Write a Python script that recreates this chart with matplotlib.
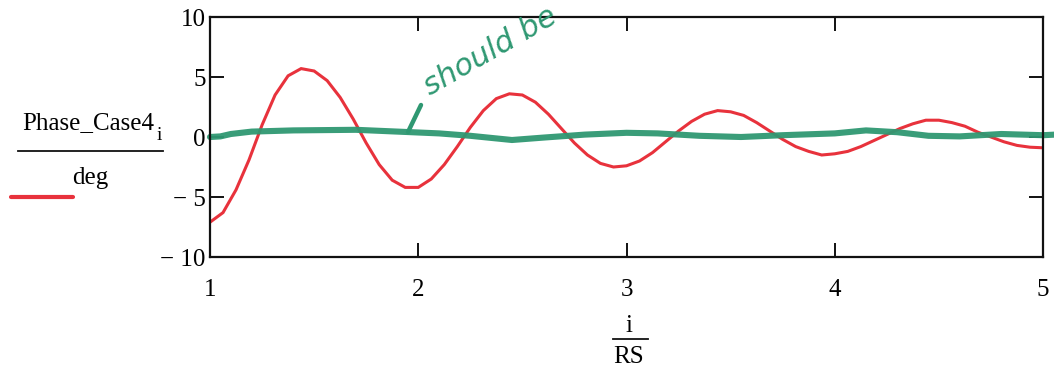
import numpy as np
import matplotlib.pyplot as plt

# sampled trace, i/RS from 1 to 5 in steps of 1/16
i_over_rs = np.arange(16, 81) / 16
phase_deg = [-7.1, -6.3, -4.4, -1.9, 1.0, 3.5, 5.1, 5.7, 5.5, 4.7, 3.3, 1.5,
             -0.5, -2.3, -3.6, -4.2, -4.2, -3.5, -2.3, -0.8, 0.8, 2.2, 3.2, 3.6,
             3.5, 2.9, 1.9, 0.7, -0.5, -1.5, -2.2, -2.5, -2.4, -2.0, -1.3, -0.4,
             0.5, 1.3, 1.9, 2.2, 2.1, 1.8, 1.2, 0.5, -0.2, -0.8, -1.2, -1.5,
             -1.4, -1.2, -0.8, -0.3, 0.2, 0.7, 1.1, 1.4, 1.4, 1.2, 0.9, 0.4,
             0.0, -0.4, -0.7, -0.85, -0.9]

# hand-drawn "should be" line
pen_x = [1.0, 1.05, 1.1, 1.2, 1.4, 1.7, 1.9, 2.1, 2.25, 2.45, 2.6, 2.8, 3.0,
         3.15, 3.35, 3.55, 3.75, 4.0, 4.15, 4.3, 4.45, 4.6, 4.8, 5.0, 5.06]
pen_y = [0.0, 0.05, 0.25, 0.45, 0.55, 0.6, 0.45, 0.3, 0.1, -0.25, -0.05, 0.2,
         0.35, 0.3, 0.1, 0.0, 0.15, 0.3, 0.55, 0.4, 0.1, 0.05, 0.25, 0.15, 0.2]

x_ticks = [1, 2, 3, 4, 5]
y_ticks = [-10, -5, 0, 5, 10]
y_tick_labels = ['\u2212 10', '\u2212 5', '0', '5', '10']

red = '#e8323c'
green = '#2f9872'
serif = 'Liberation Serif'

fig = plt.figure(figsize=(10.54, 3.72), dpi=100)
ax = fig.add_axes([210 / 1054, 1 - 257 / 372, 833 / 1054, 240 / 372])

ax.plot(i_over_rs, phase_deg, color=red, lw=2.2, solid_joinstyle='miter')
ax.plot(pen_x, pen_y, color=green, lw=4.4, alpha=0.95, clip_on=False,
        solid_capstyle='round')

ax.set_xlim(1, 5)
ax.set_ylim(-10, 10)
ax.set_xticks(x_ticks)
ax.set_xticklabels([str(t) for t in x_ticks], family=serif, fontsize=18)
ax.set_yticks(y_ticks)
ax.set_yticklabels(y_tick_labels, family=serif, fontsize=18)
ax.tick_params(direction='in', length=10, width=1.4, top=True, right=True,
               color='#111111')
ax.tick_params(axis='x', pad=16)
ax.tick_params(axis='y', pad=3)
for spine in ax.spines.values():
    spine.set_linewidth(1.6)
    spine.set_color('#111111')

# y label as a fraction
fig.text(88 / 1054, 1 - 123 / 372, 'Phase_Case4', family=serif, fontsize=18,
         ha='center', va='center')
fig.text(159 / 1054, 1 - 136 / 372, 'i', family=serif, fontsize=14,
         ha='center', va='center')
fig.add_artist(plt.Line2D([18 / 1054, 163 / 1054], [1 - 151 / 372] * 2,
                          color='#111111', lw=1.3))
fig.text(90 / 1054, 1 - 178 / 372, 'deg', family=serif, fontsize=18,
         ha='center', va='center')
fig.add_artist(plt.Line2D([11 / 1054, 73 / 1054], [1 - 197 / 372] * 2,
                          color=red, lw=3, solid_capstyle='round'))

# x label as a fraction
fig.text(629 / 1054, 1 - 326 / 372, 'i', family=serif, fontsize=18,
         ha='center', va='center')
fig.add_artist(plt.Line2D([613 / 1054, 648 / 1054], [1 - 339 / 372] * 2,
                          color='#111111', lw=1.3))
fig.text(629 / 1054, 1 - 357 / 372, 'RS', family=serif, fontsize=18,
         ha='center', va='center')

# pen annotation
fig.add_artist(plt.Line2D([408 / 1054, 421 / 1054], [1 - 132 / 372, 1 - 105 / 372],
                          color=green, lw=3.2, solid_capstyle='round'))
fig.text(430 / 1054, 1 - 96 / 372, 'should be', color=green, fontsize=22,
         style='italic', rotation=30, rotation_mode='anchor',
         ha='left', va='baseline')

fig.savefig('out.png', dpi=100)
